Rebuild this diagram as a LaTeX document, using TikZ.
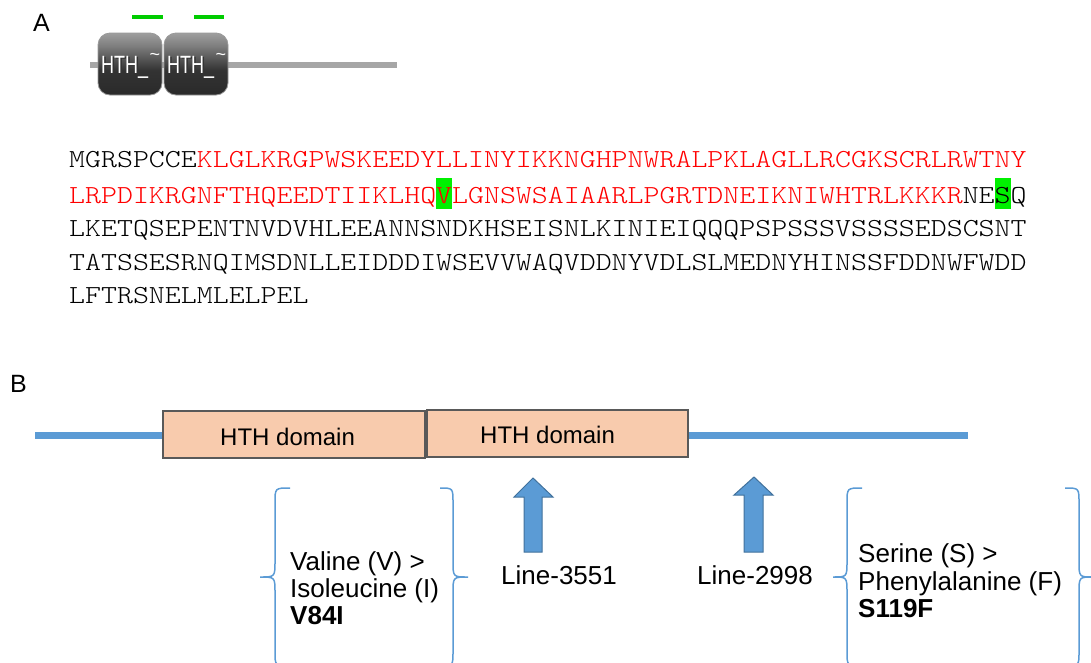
\documentclass[tikz,border=0pt]{standalone}
\usepackage{fontspec}
\setmainfont{Liberation Sans}
\newfontfamily\seqfont{lmmonolt10-regular.otf}

\definecolor{lineblue}{HTML}{5B9BD5}
\definecolor{arrowedge}{HTML}{41719C}
\definecolor{domfill}{HTML}{F8CBAD}
\definecolor{domedge}{HTML}{595959}
\definecolor{seqred}{HTML}{FF0000}
\definecolor{hlgreen}{HTML}{00F000}
\definecolor{bargreen}{HTML}{00CC00}
\definecolor{backbone}{HTML}{A6A6A6}

% glossy dark shading of the small domain glyphs
\pgfdeclareverticalshading{smartdom}{100bp}{color(0bp)=(black!88); color(45bp)=(black!80); color(65bp)=(black!50); color(85bp)=(black!26); color(100bp)=(black!15)}

% green background behind a single residue
\newcommand\hlres[1]{{\setlength{\fboxsep}{0pt}\colorbox{hlgreen}{\rule[-6pt]{0pt}{31pt}#1}}}
% widened monospaced sequence line
\newcommand\seqline[1]{\scalebox{1.169}[1]{#1}}

\begin{document}
\begin{tikzpicture}[x=1pt,y=-1pt,
  seq/.style={font=\seqfont\fontsize{26}{34}\selectfont, inner sep=0pt, anchor=base west},
  lbl/.style={font=\fontsize{26}{30}\selectfont, inner sep=0pt, anchor=base west},
  panel/.style={font=\fontsize{25}{30}\selectfont, inner sep=0pt, anchor=base west},
  domtxt/.style={font=\fontsize{24}{28}\selectfont, inner sep=0pt, anchor=base west},
  dombox/.style={draw=domedge, fill=domfill, line width=2pt, inner sep=0pt, outer sep=0pt},
  smartbox/.style={shading=smartdom, draw=black!40, line width=0.8pt, rounded corners=12pt,
    minimum width=64pt, minimum height=62pt, inner sep=0pt},
  smarttxt/.style={font=\fontsize{25}{25}\selectfont, inner sep=0pt, anchor=base west},
  brace/.style={draw=lineblue, line width=1.5pt},
  blockarrow/.style={fill=lineblue, draw=arrowedge, line width=1pt, line join=miter}]

\useasboundingbox (0,0) rectangle (1091,662);
\clip (0,0) rectangle (1091,662);

% ---------- panel A ----------
\node[panel] (labA) at (33,31) {A};

\draw[backbone, line width=6pt] (90,65) -- (397,65);
\node[smartbox] (smart1) at (130,64) {};
\node[smartbox] (smart2) at (196,64) {};
\foreach \n/\x in {1/101, 2/167}{
  \node[smarttxt, text=black!80] (sh\n) at (\x+1.5,74.5) {\scalebox{0.72}[1]{HTH\_}};
  \node[smarttxt, text=white] (tx\n) at (\x,73) {\scalebox{0.72}[1]{HTH\_}};
  \node[font=\fontsize{18}{18}\selectfont, text=white, inner sep=0pt] (tl\n) at (\x+54,57) {\textasciitilde};
}
\draw[bargreen, line width=4.5pt] (132,17) -- (163,17);
\draw[bargreen, line width=4.5pt] (194,17) -- (224,17);

\node[seq] (s1) at (69,167) {\seqline{MGRSPCCE\textcolor{seqred}{KLGLKRGPWSKEEDYLLINYIKKNGHPNWRALPKLAGLLRCGKSCRLRWTNY}}};
\node[seq] (s2) at (69,203) {\seqline{\textcolor{seqred}{LRPDIKRGNFTHQEEDTIIKLHQ\hlres{V}LGNSWSAIAARLPGRTDNEIKNIWHTRLKKKR}NE\hlres{S}Q}};
\node[seq] (s3) at (69,236) {\seqline{LKETQSEPENTNVDVHLEEANNSNDKHSEISNLKINIEIQQQPSPSSSVSSSSEDSCSNT}};
\node[seq] (s4) at (69,270) {\seqline{TATSSESRNQIMSDNLLEIDDDIWSEVVWAQVDDNYVDLSLMEDNYHINSSFDDNWFWDD}};
\node[seq] (s5) at (69,303) {\seqline{LFTRSNELMLELPEL}};

% ---------- panel B ----------
\node[panel] (labB) at (10,392) {B};

\draw[lineblue, line width=7pt] (35,435) -- (968,435);
\node[dombox, minimum width=262pt, minimum height=47pt] (hth1) at (294,434.5) {};
\node[dombox, minimum width=261pt, minimum height=47pt] (hth2) at (557.5,433.5) {};
\node[domtxt] (hthA) at (220,445) {HTH domain};
\node[domtxt] (hthB) at (480,443) {HTH domain};

% block arrows marking the two lines
\draw[blockarrow] (524,552) -- (524,497) -- (514,497) -- (533,478) -- (553,497) -- (542,497) -- (542,552) -- cycle;
\draw[blockarrow] (744,552) -- (744,495) -- (734,495) -- (754,477) -- (773,495) -- (763,495) -- (763,552) -- cycle;
\node[lbl] (line1) at (501,584) {Line-3551};
\node[lbl] (line2) at (697,584) {Line-2998};

% curly braces around the mutation notes
\draw[brace] (290,488) .. controls (275,488) .. (275,503) -- (275,561) .. controls (275,577) .. (260,577)
  .. controls (275,577) .. (275,593) -- (275,651) .. controls (275,666) .. (290,666);
\draw[brace] (440,488) .. controls (453,488) .. (453,503) -- (453,561) .. controls (453,577) .. (468,577)
  .. controls (453,577) .. (453,593) -- (453,651) .. controls (453,666) .. (440,666);
\draw[brace] (862,488) .. controls (847,488) .. (847,503) -- (847,561) .. controls (847,577) .. (833,577)
  .. controls (847,577) .. (847,593) -- (847,651) .. controls (847,666) .. (862,666);
\draw[brace] (1065,488) .. controls (1079,488) .. (1079,503) -- (1079,561) .. controls (1079,577) .. (1093,577)
  .. controls (1079,577) .. (1079,593) -- (1079,651) .. controls (1079,666) .. (1065,666);

\node[lbl] (v1) at (290,570) {Valine (V) >};
\node[lbl] (v2) at (290,597) {Isoleucine (I)};
\node[lbl] (v3) at (290,624) {\bfseries V84I};
\node[lbl] (f1) at (858,562) {Serine (S) >};
\node[lbl] (f2) at (858,590) {Phenylalanine (F)};
\node[lbl] (f3) at (858,617) {\bfseries S119F};
\end{tikzpicture}
\end{document}
